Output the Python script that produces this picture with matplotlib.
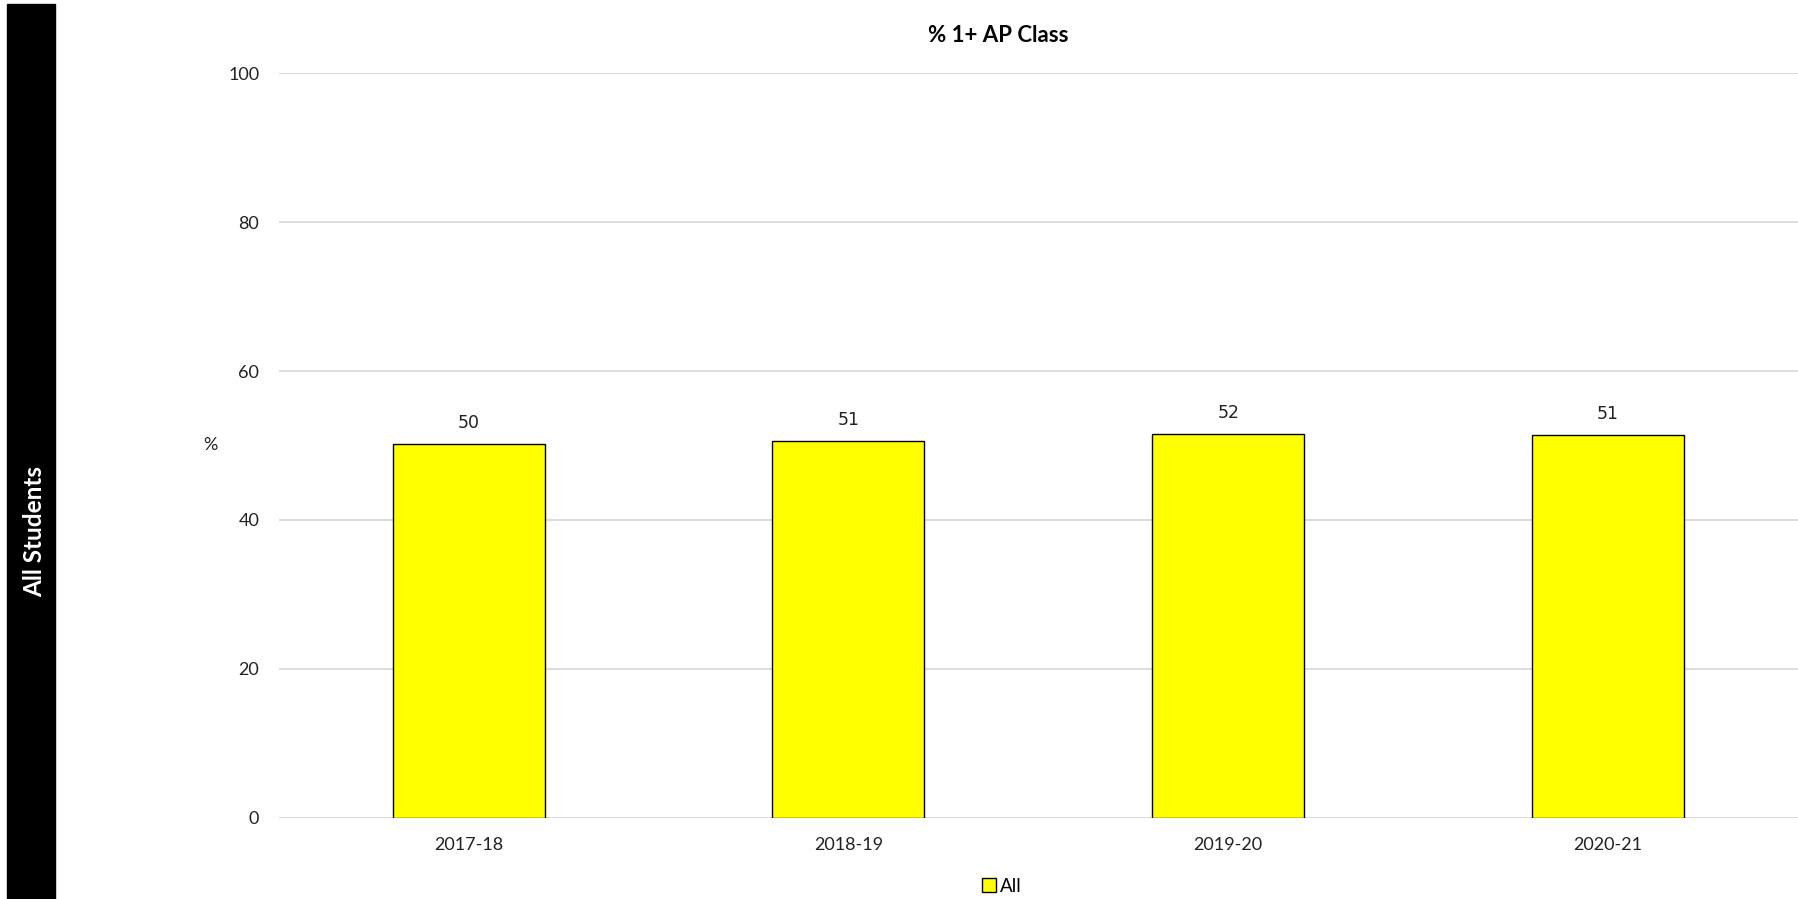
import matplotlib
matplotlib.use("Agg")
import matplotlib.pyplot as plt
from matplotlib.patches import Rectangle
from matplotlib.lines import Line2D

years = ["2017-18", "2018-19", "2019-20", "2020-21"]
pct_all = [50.2, 50.6, 51.6, 51.4]
y_ticks = [0, 20, 40, 60, 80, 100]

plt.rcParams["font.family"] = ["Lato", "DejaVu Sans"]

fig = plt.figure(figsize=(17.98, 8.99), dpi=100)
ax = fig.add_axes([0.155, 0.0905, 0.845, 0.828])

x = range(len(years))
ax.bar(x, pct_all, width=0.4, color="#ffff00", edgecolor="black",
       linewidth=1.0, zorder=3, label="All")
for xi, v in zip(x, pct_all):
    ax.text(xi, v + 1.6, f"{round(v):d}", ha="center", va="bottom",
            fontsize=12.5, color="#222222", family="DejaVu Sans")

ax.set_xlim(-0.5, len(years) - 0.5)
ax.set_ylim(0, 100)
ax.set_yticks(y_ticks)
ax.set_xticks(list(x))
ax.set_xticklabels(years)
ax.tick_params(axis="both", length=0, labelsize=13, colors="#222222")
ax.tick_params(axis="y", pad=14)
ax.tick_params(axis="x", pad=14)
ax.grid(axis="y", color="#d9d9d9", linewidth=1.3, zorder=0)
for s in ax.spines.values():
    s.set_visible(False)

ax.set_ylabel("%", rotation=0, fontsize=13, color="#222222",
              va="center", ha="center")
ax.yaxis.set_label_coords(-0.0452, 0.5)

fig.text(0.555, 0.9605, "% 1+ AP Class", ha="center", va="center",
         fontsize=16, fontweight="bold")

# left side band
fig.patches.append(Rectangle((0.0039, 0.0), 0.0267, 0.995,
                             transform=fig.transFigure, color="black"))
fig.text(0.019, 0.409, "All Students", rotation=90, ha="center", va="center",
         color="white", fontsize=17.5, fontweight="bold")

handle = Line2D([], [], marker="s", linestyle="none", markersize=10,
                markerfacecolor="#ffff00", markeredgecolor="black",
                markeredgewidth=1.0)
fig.legend([handle], ["All"], loc="center", bbox_to_anchor=(0.557, 0.014),
           frameon=False, fontsize=13.5, handletextpad=0.15, handlelength=0.8)

fig.savefig("out.png", dpi=100)
